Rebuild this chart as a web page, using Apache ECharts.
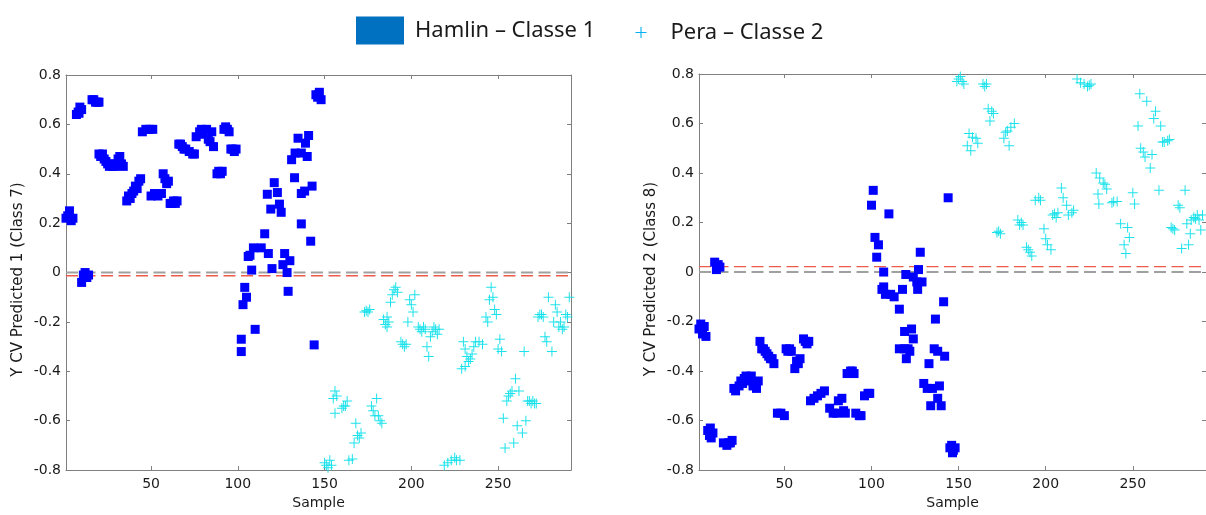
<!DOCTYPE html>
<html><head><meta charset="utf-8">
<script src="https://cdn.jsdelivr.net/npm/echarts@6/dist/echarts.min.js"></script>
<style>html,body{margin:0;padding:0;background:#fff}#c{width:1206px;height:515px}</style>
</head><body><div id="c"></div>
<script>
const seriesNames = ['Hamlin – Classe 1', 'Pera – Classe 2'];
const panelTitles = ['Y CV Predicted 1 (Class 7)', 'Y CV Predicted 2 (Class 8)'];
const xName = 'Sample';
const xRange = [1, 292];
const xTicks = [50, 100, 150, 200, 250];
const yRange = [-0.8, 0.8];
const yStep = 0.2;
const zeroLine = [0, 0];
const cutoffLine = [-0.013, 0.022];

const hamlin1 = [[1,0.22],[2,0.23],[3,0.25],[4,0.21],[5,0.22],
[7,0.64],[8,0.65],[9,0.67],[10,0.66],[8.5,0.645],
[10,-0.04],[11,-0.01],[12,0.0],[13,-0.02],[14,-0.01],
[16,0.70],[17,0.70],[18,0.69],[19,0.69],[20,0.69],
[20,0.48],[21,0.47],[22,0.48],[23,0.46],[24,0.45],[25,0.44],[26,0.43],[27,0.44],[28,0.43],[29,0.43],[30,0.44],[31,0.46],[32,0.47],[33,0.44],[34,0.43],
[36,0.29],[37,0.31],[38,0.30],[39,0.32],[40,0.33],[41,0.35],[42,0.34],[43,0.37],[44,0.38],
[45,0.57],[47,0.58],[49,0.58],[51,0.58],
[50,0.31],[52,0.32],[54,0.31],[56,0.32],
[57,0.40],[58,0.38],[59,0.36],[60,0.37],
[61,0.28],[62,0.28],[63,0.29],[64,0.28],[65,0.29],
[66,0.52],[67,0.52],[68,0.51],[69,0.50],[70,0.50],[72,0.49],[74,0.48],[75,0.48],
[76,0.55],[78,0.57],[79,0.58],[80,0.56],[82,0.58],[83,0.54],[84,0.53],[85,0.57],[86,0.51],
[88,0.40],[89,0.41],[90,0.40],[91,0.41],
[92,0.58],[93,0.59],[94,0.58],[95,0.57],
[96,0.50],[97,0.50],[98,0.49],[99,0.50],
[102,-0.27],[102,-0.32],[104,-0.06],[105,-0.10],[103,-0.13],[108,0.01],[107,0.07],[109,0.10],[106,0.065],[110,-0.23],
[113.5,0.10],[115.5,0.157],[117.6,0.077],[119.7,0.016],[117,0.317],[121,0.364],[119,0.257],[122.8,0.324],[124,0.277],[125,0.244],[127,0.077],[126,0.032],[128.4,0],[130,0.048],[129,-0.076],
[131,0.457],[133,0.484],[134.7,0.544],[132.7,0.384],[136.6,0.484],[140,0.47],[139,0.524],[140.8,0.555],[136.6,0.32],[138.5,0.33],[142.8,0.35],[136.6,0.197],[142,0.127],[144,-0.293],
[145,0.72],[146,0.71],[147,0.73],[148,0.70],[146.5,0.72]];

const pera1 = [[150,-0.77],[151,-0.78],[152,-0.79],[153,-0.76],[154,-0.78],
[155,-0.51],[156,-0.48],[157,-0.50],[156,-0.57],[160,-0.55],[162,-0.54],[163,-0.52],[161,-0.54],
[164,-0.76],[166,-0.755],
[168,-0.61],[169,-0.66],[170,-0.67],[171,-0.65],[167,-0.69],
[173,-0.16],[174,-0.155],[175,-0.16],[176,-0.15],
[177,-0.54],[178,-0.56],[180,-0.51],[179,-0.58],[181,-0.58],[182,-0.60],[183,-0.61],
[184,-0.19],[185,-0.21],[186,-0.18],[187,-0.20],[186,-0.22],
[188,-0.12],[189,-0.09],[190,-0.07],[191,-0.06],[192,-0.08],
[194,-0.28],[195,-0.29],[196,-0.30],[197,-0.29],
[199,-0.11],[200,-0.13],[201,-0.16],[202,-0.09],[198,-0.20],
[204,-0.22],[205,-0.23],[206,-0.24],[207,-0.22],[208,-0.23],
[209,-0.30],[210,-0.34],[211,-0.26],[212,-0.24],[213,-0.22],[214,-0.23],[215,-0.25],[216,-0.23],
[219,-0.78],[221,-0.77],[223,-0.76],[225,-0.75],[226,-0.76],[228,-0.76],
[230,-0.28],[231,-0.31],[232,-0.34],[233,-0.36],[234,-0.35],[235,-0.33],[236,-0.30],[229,-0.39],[231,-0.38],
[237,-0.28],[239,-0.28],[241,-0.29],
[243,-0.18],[244,-0.20],
[245,-0.11],[246,-0.06],[247,-0.10],[248,-0.15],[249,-0.17],
[250,-0.31],[251,-0.27],[252,-0.32],
[253,-0.59],[254,-0.71],[255,-0.52],[256,-0.50],[257,-0.49],[258,-0.48],[260,-0.43],[259,-0.69],
[261,-0.62],[262,-0.48],[264,-0.65],[266,-0.60],[265,-0.32],
[267,-0.52],[268,-0.52],[269,-0.53],[270,-0.52],[271,-0.53],[272,-0.53],
[273,-0.18],[274,-0.17],[275,-0.17],[276,-0.18],
[277,-0.26],[278,-0.28],
[279,-0.10],[281,-0.32],[282,-0.20],[283,-0.13],[284,-0.16],[285,-0.22],[286,-0.20],[287,-0.23],[288,-0.22],[289,-0.17],[290,-0.18],[291,-0.10]];

const hamlin2 = [[1,-0.23],[2,-0.21],[3,-0.25],[4,-0.22],[5,-0.26],
[10,0.04],[11,0.01],[12,0.03],[13,0.02],
[6,-0.64],[7,-0.66],[8,-0.67],[9,-0.65],[7.5,-0.63],
[15,-0.69],[17,-0.70],[18,-0.69],[19,-0.69],[20,-0.68],
[21,-0.47],[22,-0.48],[24,-0.46],[25,-0.44],[26,-0.45],[27,-0.43],[28,-0.42],[29,-0.43],[30,-0.44],[31,-0.42],[32,-0.46],[33,-0.45],[34,-0.47],[35,-0.44],
[36,-0.28],[37,-0.31],[38,-0.31],[39,-0.32],[40,-0.33],[41,-0.34],[42,-0.35],[43,-0.35],[44,-0.37],
[46,-0.57],[48,-0.57],[50,-0.58],
[51,-0.31],[52,-0.32],[53,-0.31],[54,-0.32],
[56,-0.39],[57,-0.36],[58,-0.37],[59,-0.35],
[61,-0.27],[62,-0.28],[63,-0.29],[64,-0.28],
[65,-0.52],[67,-0.51],[69,-0.50],[71,-0.49],[73,-0.48],
[76,-0.55],[78,-0.57],[80,-0.57],[81,-0.52],[83,-0.51],[84,-0.56],[85,-0.57],
[86,-0.41],[88,-0.40],[89,-0.40],[90,-0.41],
[91,-0.57],[93,-0.58],[94,-0.58],
[96,-0.50],[98,-0.49],[99,-0.49],
[101,0.33],[100,0.27],[102,0.14],[104,0.11],[103,0.06],[110,0.235],[107,0.0],
[106,-0.07],[107,-0.06],[108,-0.09],[113,-0.10],[111,-0.09],[116,-0.15],[117.8,-0.07],[119.7,-0.01],
[116,-0.31],[119,-0.31],[120,-0.35],[119,-0.24],[123,-0.23],[124,-0.27],[121,-0.31],[122,-0.32],
[124,-0.02],[126,-0.04],[129,-0.04],[126.5,-0.07],[127,0.01],[128,0.08],
[133,-0.37],[130,-0.45],[132,-0.47],[135,-0.47],[139,-0.46],[134,-0.54],[138,-0.51],[140,-0.54],
[136,-0.31],[138,-0.32],[142,-0.34],[136.7,-0.19],[141.4,-0.12],[144,0.30],
[145,-0.71],[146,-0.70],[147,-0.72],[148,-0.71],[146.5,-0.73]];

const pera2 = [[149,0.77],[150,0.78],[151,0.79],[152,0.77],[153,0.76],
[164,0.76],[165,0.75],[166,0.76],
[167,0.66],[169,0.65],[170,0.64],[168,0.61],
[155,0.51],[156,0.56],[157,0.49],[158,0.545],[160,0.54],[161,0.52],
[176,0.54],[177,0.565],[178,0.57],[179,0.51],[180,0.585],[182,0.60],
[172,0.16],[173,0.165],[174,0.155],
[184,0.21],[185,0.19],[186,0.20],[187,0.19],
[189,0.10],[190,0.09],[191,0.08],[192,0.065],
[194,0.29],[196,0.30],[197,0.29],
[199,0.175],[200,0.135],[201,0.11],[203,0.09],
[204,0.23],[205,0.235],[207,0.24],[206,0.22],
[209,0.34],[210,0.30],[212,0.27],[213,0.23],[215,0.24],[216,0.25],
[218,0.78],[220,0.765],[222,0.76],[224,0.75],[225,0.755],[226,0.76],
[229,0.40],[231,0.38],[233,0.36],[234,0.355],[235,0.335],[230,0.315],[230.5,0.275],
[238,0.28],[239,0.285],[241,0.285],
[243,0.195],[247,0.18],[248,0.14],[245,0.11],[246,0.075],
[250,0.32],[251,0.275],
[253,0.59],[254,0.72],[258,0.69],[262,0.62],[263,0.65],[266,0.59],
[254.5,0.50],[256,0.485],[257,0.465],[261,0.475],[260,0.42],
[265,0.33],
[267,0.525],[268,0.525],[270,0.53],[271,0.535],
[272,0.18],[273,0.175],[274,0.17],
[276,0.27],[277,0.26],
[278,0.095],[282,0.11],[283,0.155],[280,0.33],
[281,0.195],[283.5,0.21],[285,0.22],[286,0.215],[287,0.23],[288,0.21],[289,0.17],[290,0.23]];

const hamlinData = [hamlin1, hamlin2];
const peraData = [pera1, pera2];

const plusPath = 'path://M4.5,0h1v4.5h4.5v1h-4.5v4.5h-1v-4.5h-4.5v-1h4.5z';
const axisGray = '#7f7f7f';
const tickFont = {fontFamily: 'DejaVu Sans, sans-serif', fontSize: 14, color: '#1a1a1a'};
const nameFont = {fontFamily: 'DejaVu Sans, sans-serif', fontSize: 14, color: '#1a1a1a'};
const titleFont = {fontFamily: 'DejaVu Sans, sans-serif', fontSize: 15, color: '#1a1a1a'};

const grids = [
  {left: 66, top: 75, width: 505, height: 401},
  {left: 699, top: 74, width: 510, height: 402.5}
];

const xAxes = [], yAxes = [], series = [];
grids.forEach((g, i) => {
  const base = {type: 'value', gridIndex: i, min: xRange[0], max: xRange[1],
    splitLine: {show: false}, axisLine: {onZero: false, lineStyle: {color: axisGray}},
    axisTick: {inside: true, length: 4, customValues: xTicks, lineStyle: {color: axisGray}}};
  xAxes.push(Object.assign({}, base, {position: 'bottom', name: xName, nameLocation: 'middle', nameGap: 25,
    nameTextStyle: nameFont,
    axisLabel: Object.assign({customValues: xTicks, margin: 7}, tickFont)}));
  xAxes.push(Object.assign({}, base, {position: 'top', axisLabel: {show: false}}));
  const ybase = {type: 'value', gridIndex: i, min: yRange[0], max: yRange[1], interval: yStep,
    splitLine: {show: false}, axisLine: {show: true, onZero: false, lineStyle: {color: axisGray}},
    axisTick: {show: true, inside: true, length: 4, lineStyle: {color: axisGray}}};
  yAxes.push(Object.assign({}, ybase, {position: 'left', name: panelTitles[i], nameLocation: 'middle', nameGap: 40,
    nameTextStyle: Object.assign({padding: [0, 14, 0, 0]}, titleFont),
    axisLabel: Object.assign({margin: 5, formatter: v => String(Math.round(v * 10) / 10)}, tickFont)}));
  yAxes.push(Object.assign({}, ybase, {position: 'right', axisLabel: {show: false}}));

  series.push({
    name: seriesNames[0], type: 'scatter', xAxisIndex: 2 * i, yAxisIndex: 2 * i,
    symbol: 'rect', symbolSize: 9, itemStyle: {color: '#0000ff', opacity: 1},
    data: hamlinData[i], z: 3
  });
  series.push({
    name: seriesNames[1], type: 'scatter', xAxisIndex: 2 * i, yAxisIndex: 2 * i,
    symbol: plusPath, symbolSize: 10, itemStyle: {color: '#12e0ea', opacity: 0.95},
    data: peraData[i], z: 2
  });
  series.push({
    name: 'zero-' + i, type: 'line', xAxisIndex: 2 * i, yAxisIndex: 2 * i, silent: true,
    symbol: 'none', z: 1, lineStyle: {color: '#a0a0a0', width: 2, type: [12, 5.5]},
    data: [[xRange[0], zeroLine[i]], [xRange[1], zeroLine[i]]]
  });
  series.push({
    name: 'cutoff-' + i, type: 'line', xAxisIndex: 2 * i, yAxisIndex: 2 * i, silent: true,
    symbol: 'none', z: 1, lineStyle: {color: '#ec5a4a', width: 1.3, type: [12, 5.5]},
    data: [[xRange[0], cutoffLine[i]], [xRange[1], cutoffLine[i]]]
  });
});

const chart = echarts.init(document.getElementById('c'), null, {renderer: 'canvas'});
chart.setOption({
  animation: false,
  backgroundColor: '#ffffff',
  grid: grids,
  xAxis: xAxes,
  yAxis: yAxes,
  legend: [
    {left: 356, top: 16.5, padding: 0, itemWidth: 48, itemHeight: 28, itemGap: 10, selectedMode: false,
      textStyle: {fontFamily: 'Noto Sans, Open Sans, sans-serif', fontSize: 22, color: '#1a1a1a', padding: [11, 0, 0, 6]},
      data: [{name: seriesNames[0], icon: 'rect', itemStyle: {color: '#0070c0', opacity: 1}}]},
    {left: 635.5, top: 21.5, padding: 0, itemWidth: 11, itemHeight: 28, itemGap: 10, selectedMode: false, symbolKeepAspect: true,
      textStyle: {fontFamily: 'Noto Sans, Open Sans, sans-serif', fontSize: 22, color: '#1a1a1a', padding: [11, 0, 0, 19]},
      data: [{name: seriesNames[1], icon: plusPath, itemStyle: {color: '#00b0f0', opacity: 1}}]}
  ],
  series: series
});
</script>
</body></html>
